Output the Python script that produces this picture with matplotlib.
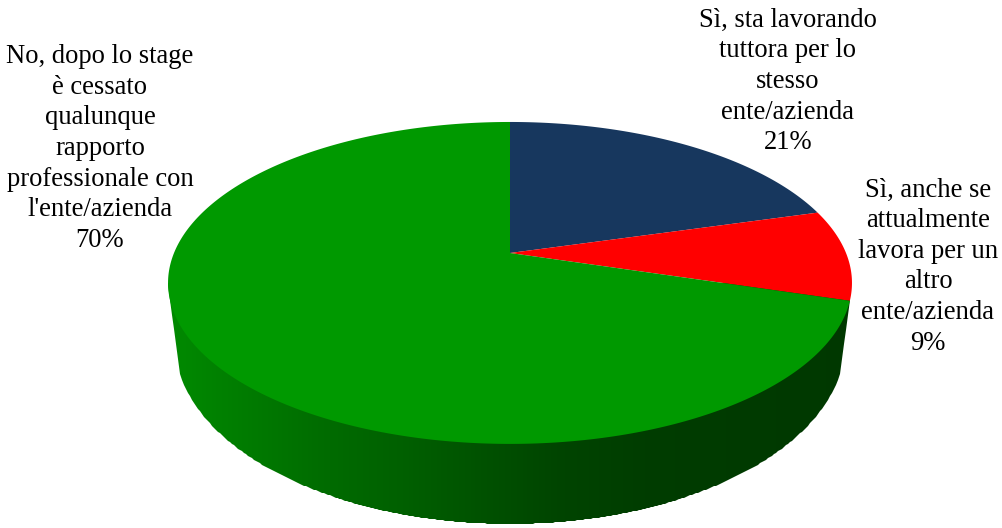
import numpy as np

import matplotlib

matplotlib.use("Agg")
import matplotlib.pyplot as plt
from matplotlib.colors import to_rgb

plt.rcParams["font.family"] = ["Liberation Serif", "DejaVu Serif"]

# slices, clockwise from 12 o'clock
LABELS = [
    "Sì, sta lavorando\ntuttora per lo\nstesso\nente/azienda",
    "Sì, anche se\nattualmente\nlavora per un\naltro\nente/azienda",
    "No, dopo lo stage\nè cessato\nqualunque\nrapporto\nprofessionale con\nl'ente/azienda",
]
VALUES = [20.6, 9.1, 70.3]
COLORS = ["#17375E", "#FF0000", "#009900"]
LABEL_POS = [(788, 81.5), (928, 266.5), (100, 148.5)]

# shading of the front wall, left to right
SHADE_X = [168, 250, 320, 400, 490, 560, 650, 852]
SHADE_COLORS = ["#008A00", "#007A00", "#006C00", "#006000", "#005000", "#004400", "#003C00", "#003800"]

# pie centre in the picture and perspective of the tilted disc
CX, CY = 510, 253
A, B, Q = 336, 155.4, 0.186


def project(theta):
    # theta clockwise from the top of the disc, perspective pulls the back edge in
    x, y = np.sin(theta), np.cos(theta)
    d = 1 + Q * y
    return CX + A * x / d, CY - B * y / d


def wall_bottom(x):
    bottom = 343 + 181 * np.sqrt(np.clip(1 - ((x - CX) / 335) ** 2, 0, 1))
    bottom = np.where(x < 180, 285 + (x - 168) / 12 * 89, bottom)
    bottom = np.where(x > 840, 374 - (x - 840) / 10 * 74, bottom)
    return bottom


fig = plt.figure(figsize=(10.03, 5.28), dpi=100)
ax = fig.add_axes([0, 0, 1, 1])
ax.set_xlim(0, 1003)
ax.set_ylim(528, 0)
ax.axis("off")

# side wall
xs = np.linspace(168, 850, 343)
X = np.vstack([xs, xs])
Y = np.vstack([np.full_like(xs, 283.0), wall_bottom(xs)])
mids = (xs[:-1] + xs[1:]) / 2
rgb = np.array([to_rgb(c) for c in SHADE_COLORS])
shade = np.stack([np.interp(mids, SHADE_X, rgb[:, i]) for i in range(3)], axis=1)
ax.pcolormesh(X, Y, shade[np.newaxis, :, :], shading="flat", rasterized=True, antialiased=True)

# top of the pie
edges = np.cumsum([0] + VALUES) / sum(VALUES) * 2 * np.pi
for start, end, color in zip(edges[:-1], edges[1:], COLORS):
    theta = np.linspace(start, end, 300)
    px, py = project(theta)
    ax.fill(np.r_[CX, px], np.r_[CY, py], color=color, lw=0, zorder=3)

for label, value, (tx, ty) in zip(LABELS, VALUES, LABEL_POS):
    ax.text(tx, ty, f"{label}\n{value:.0f}%", ha="center", va="center", fontsize=19.15, color="black",
            linespacing=1.295, zorder=4)

fig.savefig("out.png", dpi=100)
